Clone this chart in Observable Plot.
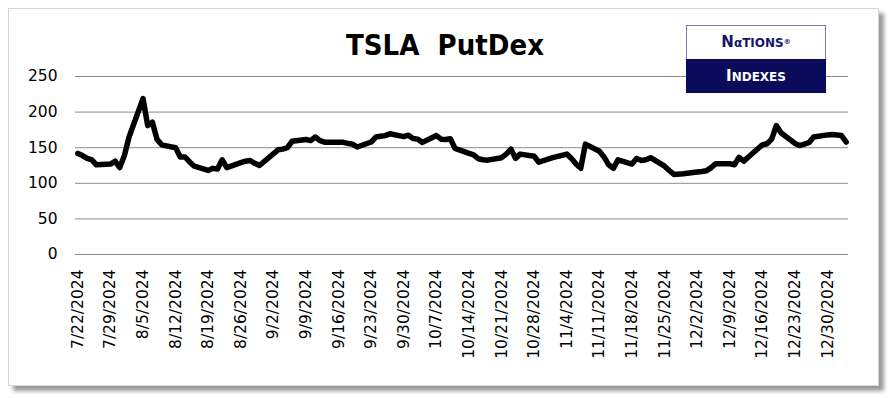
<!DOCTYPE html>
<html>
<head>
<meta charset="utf-8">
<script src="https://cdn.jsdelivr.net/npm/d3@7"></script>
<script src="https://cdn.jsdelivr.net/npm/@observablehq/plot@0.6"></script>
<style>
  html, body { margin: 0; padding: 0; background: #ffffff; }
  #wrap { position: relative; width: 890px; height: 398px; overflow: hidden; }
  #card { position: absolute; left: 8px; top: 8px; width: 869px; height: 376px;
          border: 1px solid #d6d6d6; background: #fff;
          box-shadow: 5px 5px 4px #9a9a9a; }
  #chart { position: absolute; left: 0; top: 0; }
  #title { position: absolute; left: 0; width: 890px; top: 28px; text-align: center;
           font-family: "DejaVu Sans Condensed", "DejaVu Sans", sans-serif; font-weight: bold;
           font-size: 29px; color: #000; letter-spacing: 0px; white-space: pre; }
  #logo { position: absolute; left: 686px; top: 25px; width: 140px; height: 68px; }
  #logo .top { position: absolute; left: 0; top: 0; width: 138px; height: 33px; background: #fff;
               border: 1px solid #7b7bb0; text-align: center; color: #14146a;
               font-family: "DejaVu Sans", sans-serif; font-weight: bold; line-height: 33px; font-size: 12px; }
  #logo .bot { position: absolute; left: 0; top: 34px; width: 140px; height: 34px; background: #0b0b5c;
               text-align: center; color: #fff;
               font-family: "DejaVu Sans", sans-serif; font-weight: bold; line-height: 34px; font-size: 12px; }
  .big { font-size: 15px; }
  .reg { font-size: 7px; vertical-align: 3px; }
</style>
</head>
<body>
<div id="wrap">
  <div id="card"></div>
  <div id="chart"></div>
  <div id="title">TSLA  PutDex</div>
  <div id="logo">
    <div class="top"><span class="big">N</span>αTIONS<span class="reg">®</span></div>
    <div class="bot"><span class="big">I</span>NDEXES</div>
  </div>
</div>
<script>
const dates = [
  "2024-07-22","2024-07-23","2024-07-24","2024-07-25","2024-07-26",
  "2024-07-29","2024-07-30","2024-07-31","2024-08-01","2024-08-02",
  "2024-08-05","2024-08-06","2024-08-07","2024-08-08","2024-08-09",
  "2024-08-12","2024-08-13","2024-08-14","2024-08-15","2024-08-16",
  "2024-08-19","2024-08-20","2024-08-21","2024-08-22","2024-08-23",
  "2024-08-26","2024-08-27","2024-08-28","2024-08-29","2024-08-30",
  "2024-09-03","2024-09-04","2024-09-05","2024-09-06",
  "2024-09-09","2024-09-10","2024-09-11","2024-09-12","2024-09-13",
  "2024-09-16","2024-09-17","2024-09-18","2024-09-19","2024-09-20",
  "2024-09-23","2024-09-24","2024-09-25","2024-09-26","2024-09-27",
  "2024-09-30","2024-10-01","2024-10-02","2024-10-03","2024-10-04",
  "2024-10-07","2024-10-08","2024-10-09","2024-10-10","2024-10-11",
  "2024-10-14","2024-10-15","2024-10-16","2024-10-17","2024-10-18",
  "2024-10-21","2024-10-22","2024-10-23","2024-10-24","2024-10-25",
  "2024-10-28","2024-10-29","2024-10-30","2024-10-31","2024-11-01",
  "2024-11-04","2024-11-05","2024-11-06","2024-11-07","2024-11-08",
  "2024-11-11","2024-11-12","2024-11-13","2024-11-14","2024-11-15",
  "2024-11-18","2024-11-19","2024-11-20","2024-11-21","2024-11-22",
  "2024-11-25","2024-11-26","2024-11-27","2024-11-29",
  "2024-12-02","2024-12-03","2024-12-04","2024-12-05","2024-12-06",
  "2024-12-09","2024-12-10","2024-12-11","2024-12-12","2024-12-13",
  "2024-12-16","2024-12-17","2024-12-18","2024-12-19","2024-12-20",
  "2024-12-23","2024-12-24","2024-12-26","2024-12-27",
  "2024-12-30","2024-12-31","2025-01-02","2025-01-03"
];
const putdex = [
  142,139,135,133,126,
  127,131,122,139,165,
  219,181,186,162,154,
  150,137,137,130,124,
  118,121,120,133,122,
  129,131,132,128,125,
  147,148,150,159,
  161.5,160,165,160,157.7,
  157.7,157.5,156,155,151,
  158,165,166,167,169.5,
  165.5,167.5,163,162,157.5,
  167,162,161.5,162.5,149,
  142,140,134.5,133,132.5,
  136,141,148,135,141,
  138,129.6,132,134,136,
  141,135,127,121,155,
  145,137,126,121,133,
  127,135,132,133,136,
  124,118,112.5,113.5,
  116,116.5,117.5,122,127.5,
  127.5,126,136.5,131,137,
  154,155.5,162,181,171,
  156,153,157,165,
  168,168.5,167,158
];
const tickDates = [
  "2024-07-22","2024-07-29","2024-08-05","2024-08-12","2024-08-19","2024-08-26",
  "2024-09-02","2024-09-09","2024-09-16","2024-09-23","2024-09-30","2024-10-07",
  "2024-10-14","2024-10-21","2024-10-28","2024-11-04","2024-11-11","2024-11-18",
  "2024-11-25","2024-12-02","2024-12-09","2024-12-16","2024-12-23","2024-12-30"
];
const yTicks = [0, 50, 100, 150, 200, 250];

const parse = s => new Date(s + "T00:00:00Z");
const data = dates.map((d, i) => ({date: parse(d), value: putdex[i]}));
const halfDay = 12 * 3600 * 1000;
const xDomain = [new Date(parse(dates[0]) - halfDay), new Date(+parse(dates[dates.length - 1]) + halfDay)];
const fmt = d => `${d.getUTCMonth() + 1}/${d.getUTCDate()}/${d.getUTCFullYear()}`;
const tickFont = '"DejaVu Sans", sans-serif';

const chart = Plot.plot({
  width: 890,
  height: 398,
  marginLeft: 75,
  marginRight: 42,
  marginTop: 76,
  marginBottom: 144,
  style: {fontFamily: tickFont, fontSize: "15px", color: "#000", background: "transparent"},
  x: {type: "utc", domain: xDomain},
  y: {domain: [0, 250]},
  marks: [
    Plot.gridY(yTicks, {stroke: "#8c8c8c", strokeOpacity: 1, strokeWidth: 1}),
    Plot.axisY(yTicks, {tickSize: 0, tickPadding: 18, fontSize: 15.5, label: null, fill: "#000"}),
    Plot.axisX(tickDates.map(parse), {tickSize: 0, tickPadding: 15, tickRotate: -90, tickFormat: fmt, fontSize: 15.5, label: null, fill: "#000"}),
    Plot.line(data, {x: "date", y: "value", stroke: "#000", strokeWidth: 5.5, strokeLinejoin: "round", strokeLinecap: "round"})
  ]
});
document.getElementById("chart").appendChild(chart);
</script>
</body>
</html>
